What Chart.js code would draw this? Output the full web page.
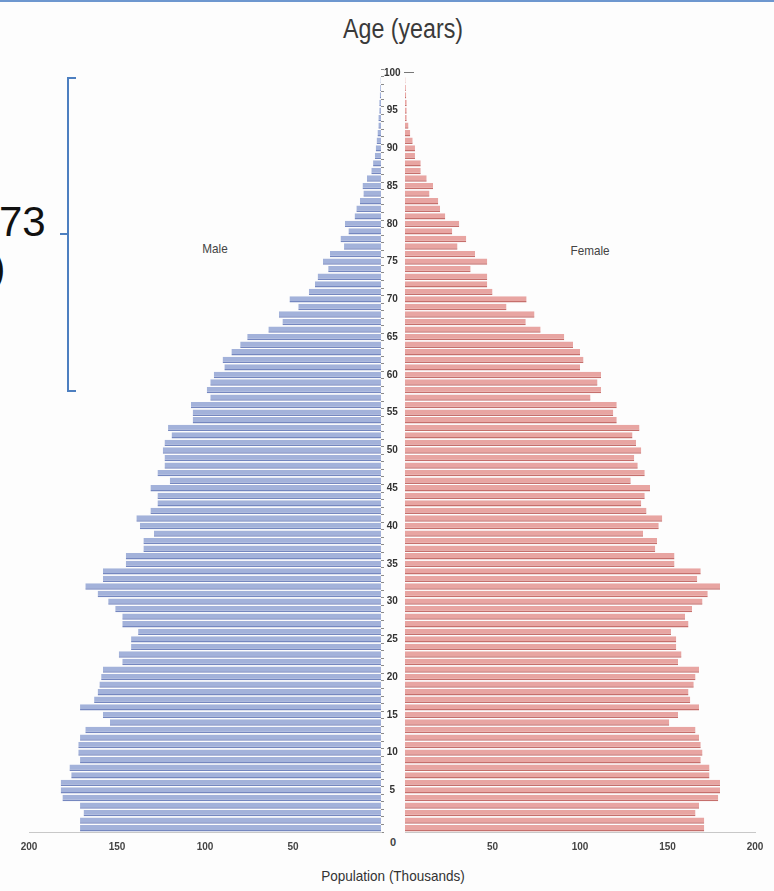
<!DOCTYPE html>
<html>
<head>
<meta charset="utf-8">
<script src="https://cdn.jsdelivr.net/npm/chart.js@4"></script>
<style>
  html, body { margin: 0; padding: 0; background: #fdfdfd; }
  body { width: 774px; height: 891px; position: relative; overflow: hidden; font-family: "Liberation Sans", "DejaVu Sans", sans-serif; }
  .abs { position: absolute; }
  #topline { left: 0; top: 0; width: 774px; height: 2px; background: #6d97cf; }
  #title { left: 293px; width: 220px; top: 14px; text-align: center; font-size: 27px; color: #3a3a3a; transform: scaleX(0.86); }
  #xtitle { left: 288px; width: 210px; top: 867px; text-align: center; font-size: 15px; color: #333; transform: scaleX(0.9); }
  #zero { left: 383px; width: 20px; top: 836px; text-align: center; font-size: 11px; font-weight: bold; color: #444; }
  #male { left: 190px; width: 50px; top: 241px; text-align: center; font-size: 13px; color: #444; transform: scaleX(0.9); }
  #female { left: 560px; width: 60px; top: 243px; text-align: center; font-size: 13px; color: #444; transform: scaleX(0.9); }
  #n73 { left: -1px; top: 198px; font-size: 42px; color: #111; }
  #paren { left: -8px; top: 246px; font-size: 40px; color: #111; }
  .br { background: #4d7fc0; }
  canvas { position: absolute; }
</style>
</head>
<body>
<div id="topline" class="abs"></div>
<div id="title" class="abs">Age (years)</div>
<div id="n73" class="abs">73</div>
<div id="paren" class="abs">)</div>
<div class="abs br" style="left:67px;top:77px;width:2px;height:315px;"></div>
<div class="abs br" style="left:67px;top:77px;width:9px;height:2px;"></div>
<div class="abs br" style="left:67px;top:390px;width:9px;height:2px;"></div>
<div class="abs br" style="left:60px;top:233px;width:8px;height:2px;"></div>
<div id="male" class="abs">Male</div>
<div id="female" class="abs">Female</div>
<div id="zero" class="abs">0</div>
<div id="xtitle" class="abs">Population (Thousands)</div>
<div class="abs" style="left:404px;top:72px;width:10px;height:1px;background:#777;"></div>
<div class="abs" style="left:0;top:0;width:405px;height:891px;"><canvas id="cm" width="405" height="891"></canvas></div>
<div class="abs" style="left:400px;top:0;width:374px;height:891px;"><canvas id="cf" width="374" height="891"></canvas></div>
<script>
const ages = [];
for (let a = 0; a <= 100; a++) ages.push(String(a));

const maleValues = [171,171,169,171,181,182,182,176,177,171,
  172,172,171,168,154,158,171,163,161,160,
  159,158,147,149,142,142,138,147,147,151,
  155,161,168,158,158,145,145,135,135,129,
  137,139,131,127,127,131,120,127,123,123,
  124,123,119,121,107,107,108,97,99,97,
  95,89,90,85,80,76,64,56,58,47,
  52,41,37.5,36,30,33,29,21,23,18.5,
  20.5,15,14,12,10,10.5,8,5.5,4.5,3.5,
  3,2.5,2,1.5,1.5,1,1,0.7,0.5,0.3,0];

const femaleValues = [171,171,166,168,179,180,180,174,174,169,
  170,169,168,166,151,156,168,163,162,165,
  166,168,156,158,155,155,152,162,160,164,
  170,173,180,167,169,154,154,143,144,136,
  145,147,138,135,137,140,129,137,133,131,
  135,132,130,134,121,119,121,106,112,110,
  112,100,102,100,96,91,77.5,69,74,58,
  69.5,50,47,47,37.5,47,40,30,35,27,
  31,23,20,19,14,16,12.4,9,9,5.7,
  5.7,4.4,3,2,1,1,1,0.7,0.5,0.3,0];

const xTicks = [0, 50, 100, 150, 200];

const tickFont = { family: "'Liberation Sans', sans-serif", size: 10, weight: 'bold' };

function xScale(reverse) {
  return {
    type: 'linear', min: 0, max: 200, reverse: reverse,
    afterBuildTicks: s => { s.ticks = xTicks.map(v => ({ value: v })); },
    afterFit: s => { s.height = 59; },
    grid: { display: false },
    border: { display: true, color: '#c8c8c8', width: 1 },
    ticks: { color: '#444', font: tickFont, padding: 1, callback: v => v === 0 ? '' : String(v) }
  };
}

new Chart(document.getElementById('cm'), {
  type: 'bar',
  data: { labels: ages, datasets: [{ label: 'Male', data: maleValues,
    backgroundColor: '#a3b2da', borderColor: '#7587bf', borderWidth: { top: 0, bottom: 1.5, left: 0, right: 0 }, borderSkipped: false,
    barPercentage: 0.84, categoryPercentage: 1 }] },
  options: {
    indexAxis: 'y', responsive: false, animation: false,
    layout: { padding: { left: 29, right: 0, top: 69, bottom: 0 } },
    plugins: { legend: { display: false }, tooltip: { enabled: false } },
    scales: {
      x: xScale(true),
      y: {
        type: 'category', reverse: true, position: 'right',
        afterFit: s => { s.width = 24; },
        grid: { display: true, drawOnChartArea: false, drawTicks: true, tickLength: 3, color: '#8a8a8a' },
        border: { display: false },
        ticks: { autoSkip: false, color: '#333', font: tickFont, padding: 0, crossAlign: 'center',
          callback: function (v) { const a = Number(this.getLabelForValue(v)); return (a % 5 === 0 && a !== 0) ? String(a) : ''; } }
      }
    }
  }
});

new Chart(document.getElementById('cf'), {
  type: 'bar',
  data: { labels: ages, datasets: [{ label: 'Female', data: femaleValues,
    backgroundColor: '#e8a5a2', borderColor: '#c56f6c', borderWidth: { top: 0, bottom: 1.5, left: 0, right: 0 }, borderSkipped: false,
    barPercentage: 0.84, categoryPercentage: 1 }] },
  options: {
    indexAxis: 'y', responsive: false, animation: false,
    layout: { padding: { left: 5, right: 19, top: 69, bottom: 0 } },
    plugins: { legend: { display: false }, tooltip: { enabled: false } },
    scales: {
      x: xScale(false),
      y: { type: 'category', reverse: true, display: false }
    }
  }
});
</script>
</body>
</html>
